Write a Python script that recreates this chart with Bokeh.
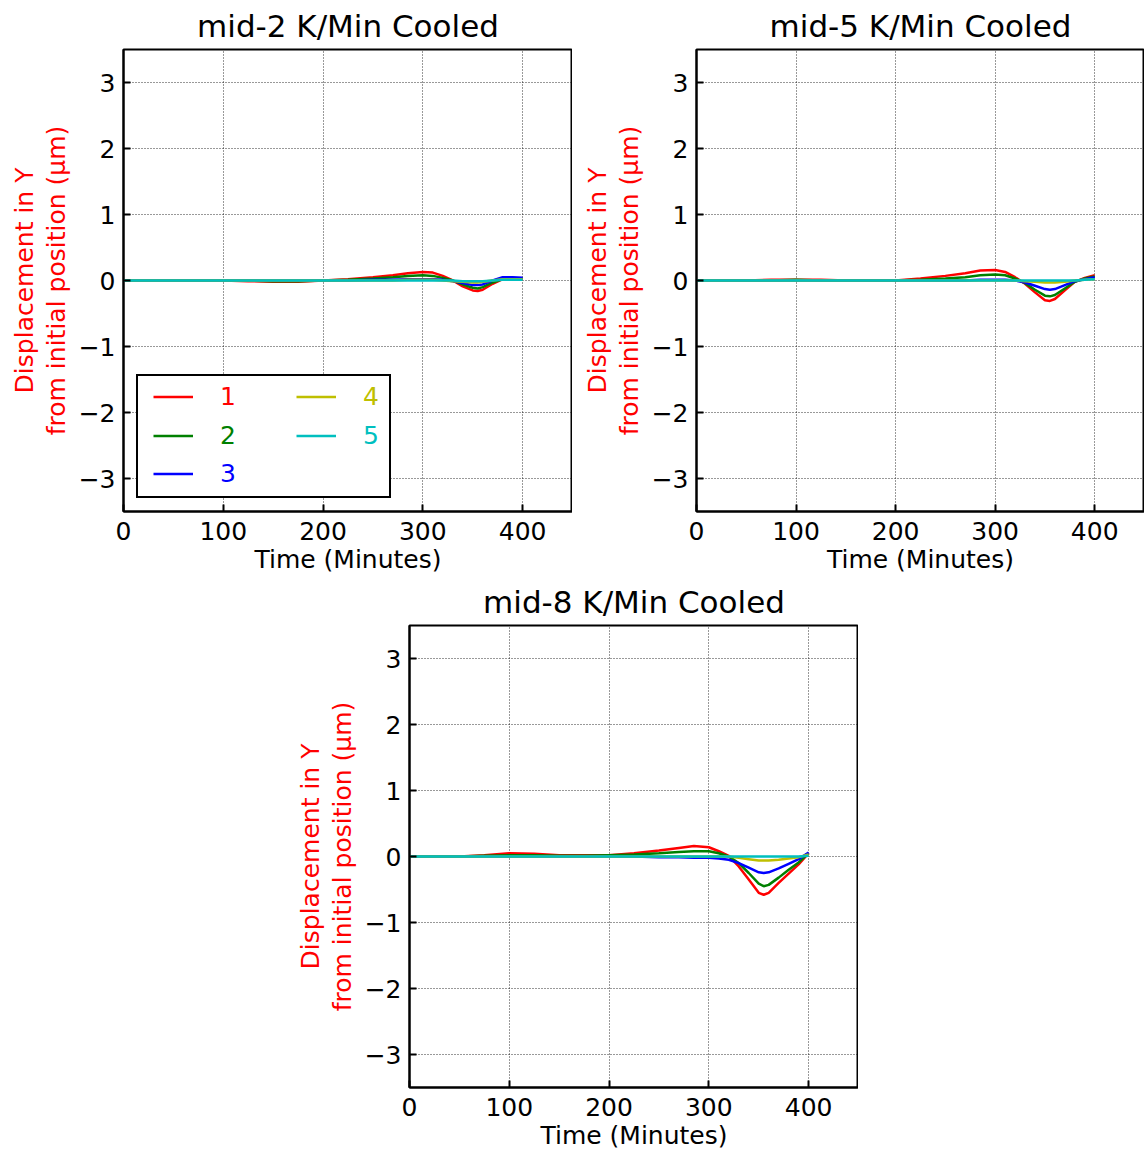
from bokeh.plotting import figure
from bokeh.layouts import column, row
from bokeh.models import Legend, LegendItem, Range1d, FixedTicker
from bokeh.core.properties import value
from bokeh.embed import file_html
from bokeh.resources import INLINE

FONT = "DejaVu Sans"

# Time axis shared by all runs (minutes)
minutes = [0, 25, 50, 75, 100, 125, 150, 175, 200, 225, 250, 270, 285,
           300, 310, 320, 330, 340, 350, 355, 360, 370, 380, 390, 400]

series_labels = ["1", "2", "3", "4", "5"]
series_colors = ["#FF0000", "#008000", "#0000FF", "#BFBF00", "#00BFBF"]

# mid-2 K/Min cooled: displacement in Y (um)
mid2_s1 = [0, 0, 0, 0, 0, -0.01, -0.02, -0.02, 0.0, 0.02, 0.05, 0.08, 0.11,
           0.13, 0.12, 0.07, 0.0, -0.09, -0.15, -0.16, -0.14, -0.05, 0.02, 0.03, 0.03]
mid2_s2 = [0, 0, 0, 0, 0, 0, -0.01, -0.01, 0.0, 0.01, 0.03, 0.05, 0.07,
           0.08, 0.07, 0.04, 0.0, -0.06, -0.11, -0.12, -0.10, -0.03, 0.02, 0.03, 0.03]
mid2_s3 = [0, 0, 0, 0, 0, 0, 0, 0, 0, 0, 0.01, 0.01, 0.02,
           0.02, 0.02, 0.01, -0.01, -0.04, -0.07, -0.07, -0.06, 0.0, 0.05, 0.05, 0.04]
mid2_s4 = [0, 0, 0, 0, 0, 0, 0, 0, 0, 0, 0, 0, 0.01,
           0.01, 0.01, 0.0, -0.01, -0.02, -0.03, -0.03, -0.02, 0.0, 0.02, 0.02, 0.02]
mid2_s5 = [0, 0, 0, 0, 0, 0, 0, 0, 0, 0, 0, 0, 0,
           0, 0, 0, 0, -0.01, -0.01, -0.01, -0.01, 0.0, 0.01, 0.01, 0.01]

# mid-5 K/Min cooled
mid5_s1 = [0, 0, 0, 0.01, 0.01, 0.01, 0, 0, 0.0, 0.03, 0.07, 0.11, 0.15,
           0.16, 0.13, 0.05, -0.05, -0.18, -0.30, -0.31, -0.28, -0.15, -0.02, 0.04, 0.08]
mid5_s2 = [0, 0, 0, 0, 0.01, 0, 0, 0, 0, 0.01, 0.03, 0.05, 0.08,
           0.09, 0.08, 0.03, -0.04, -0.14, -0.23, -0.24, -0.22, -0.12, -0.02, 0.03, 0.06]
mid5_s3 = [0, 0, 0, 0, 0, 0, 0, 0, 0, 0, 0, 0, 0.01,
           0.01, 0.01, 0, -0.03, -0.08, -0.13, -0.14, -0.13, -0.07, -0.01, 0.02, 0.05]
mid5_s4 = [0, 0, 0, 0, 0, 0, 0, 0, 0, 0, 0, 0, 0,
           0, 0, 0, -0.01, -0.02, -0.03, -0.03, -0.03, -0.02, 0, 0.01, 0.02]
mid5_s5 = [0, 0, 0, 0, 0, 0, 0, 0, 0, 0, 0, 0, 0,
           0, 0, 0, 0, 0, 0, 0, 0, 0, 0, 0.01, 0.02]

# mid-8 K/Min cooled
mid8_s1 = [0, 0, 0, 0.02, 0.05, 0.04, 0.02, 0.02, 0.02, 0.05, 0.09, 0.13, 0.16,
           0.14, 0.08, 0.01, -0.15, -0.35, -0.55, -0.58, -0.55, -0.40, -0.26, -0.12, 0.05]
mid8_s2 = [0, 0, 0, 0.01, 0.02, 0.02, 0.01, 0.01, 0.02, 0.03, 0.05, 0.07, 0.08,
           0.08, 0.05, 0.0, -0.10, -0.25, -0.41, -0.45, -0.43, -0.32, -0.20, -0.09, 0.05]
mid8_s3 = [0, 0, 0, 0, 0, 0, 0, 0, 0, 0, -0.01, -0.01, -0.02,
           -0.02, -0.03, -0.05, -0.10, -0.17, -0.24, -0.25, -0.24, -0.18, -0.11, -0.04, 0.06]
mid8_s4 = [0, 0, 0, 0, 0, 0, 0, 0, 0, 0, 0, 0, 0,
           0, 0, 0, -0.02, -0.04, -0.06, -0.06, -0.06, -0.05, -0.03, -0.01, 0.03]
mid8_s5 = [0, 0, 0, 0, 0, 0, 0, 0, 0, 0, 0, 0, 0,
           0, 0, 0, 0, 0, 0, 0, 0, 0, 0, 0, 0.01]

x_ticks = [0, 100, 200, 300, 400]
y_ticks = [-3, -2, -1, 0, 1, 2, 3]
y_tick_text = {t: str(t).replace("-", "\u2212") for t in y_ticks}

X_LABEL = "Time (Minutes)"
Y_LABEL = "Displacement in Y\nfrom initial position (\u03bcm)"


def make_panel(title, curves, width, border_left, with_legend=False):
    p = figure(width=width, height=576, title=title,
               x_range=Range1d(0, 450), y_range=Range1d(-3.5, 3.5),
               output_backend="svg", toolbar_location=None,
               min_border_left=border_left, min_border_right=0,
               min_border_top=48, min_border_bottom=65,
               background_fill_color="white", border_fill_color="white")

    p.title.align = "center"
    p.title.text_font = FONT
    p.title.text_font_size = "31px"
    p.title.text_font_style = "normal"
    p.title.text_color = "black"
    p.title.standoff = 11

    p.outline_line_color = "black"
    p.outline_line_width = 2
    p.outline_line_alpha = 1

    p.xaxis.ticker = FixedTicker(ticks=x_ticks)
    p.yaxis.ticker = FixedTicker(ticks=y_ticks)
    p.yaxis.major_label_overrides = y_tick_text

    for ax in (p.xaxis[0], p.yaxis[0]):
        ax.axis_line_color = "black"
        ax.axis_line_width = 2
        ax.major_tick_in = 7
        ax.major_tick_out = 0
        ax.major_tick_line_width = 2
        ax.major_tick_line_color = "black"
        ax.minor_tick_in = 0
        ax.minor_tick_out = 0
        ax.major_label_text_font = FONT
        ax.major_label_text_font_size = "25px"
        ax.major_label_text_color = "black"
        ax.axis_label_text_font = FONT
        ax.axis_label_text_font_size = "25px"
        ax.axis_label_text_font_style = "normal"

    p.xaxis.axis_label = X_LABEL
    p.xaxis.axis_label_text_color = "black"
    p.xaxis.major_label_standoff = 10
    p.xaxis.axis_label_standoff = 2

    p.yaxis.axis_label = Y_LABEL
    p.yaxis.axis_label_text_color = "red"
    p.yaxis.axis_label_text_line_height = 1.1
    p.yaxis.major_label_standoff = 8
    p.yaxis.axis_label_standoff = 5

    for g in (p.xgrid[0], p.ygrid[0]):
        g.grid_line_color = "black"
        g.grid_line_alpha = 0.8
        g.grid_line_width = 1
        g.grid_line_dash = "1 2"

    renderers = []
    for vals, color in zip(curves, series_colors):
        r = p.line(minutes, vals, line_color=color, line_width=2.5)
        renderers.append(r)

    if with_legend:
        # framed box behind the legend entries
        blank = p.line(x=[], y=[], line_alpha=0)
        box = Legend(items=[LegendItem(label=value(" "), renderers=[blank])],
                     location=(13, 13), padding=0, margin=0,
                     glyph_width=251, glyph_height=120,
                     label_width=0, label_height=0, label_standoff=0,
                     label_text_font_size="1px",
                     border_line_color="black", border_line_alpha=1,
                     border_line_width=2,
                     background_fill_color="white", background_fill_alpha=1)
        p.add_layout(box)
        # one entry per series so each label keeps its own colour
        spots = [(30, 100), (30, 61), (30, 23), (173, 100), (173, 61)]
        for lbl, color, r, loc in zip(series_labels, series_colors, renderers, spots):
            leg = Legend(items=[LegendItem(label=value(lbl), renderers=[r])],
                         location=loc, padding=0, margin=0,
                         glyph_width=40, glyph_height=29,
                         label_width=16, label_height=29, label_standoff=27,
                         label_text_font=FONT, label_text_font_size="25px",
                         label_text_color=color,
                         border_line_alpha=0, background_fill_alpha=0)
            p.add_layout(leg)
    return p


p2 = make_panel("mid-2 K/Min Cooled",
                [mid2_s1, mid2_s2, mid2_s3, mid2_s4, mid2_s5],
                width=572, border_left=123, with_legend=True)
p5 = make_panel("mid-5 K/Min Cooled",
                [mid5_s1, mid5_s2, mid5_s3, mid5_s4, mid5_s5],
                width=572, border_left=124)
p8 = make_panel("mid-8 K/Min Cooled",
                [mid8_s1, mid8_s2, mid8_s3, mid8_s4, mid8_s5],
                width=858, border_left=409)

layout = column(row(p2, p5), p8)

open("out.html", "w").write(file_html(layout, INLINE))
